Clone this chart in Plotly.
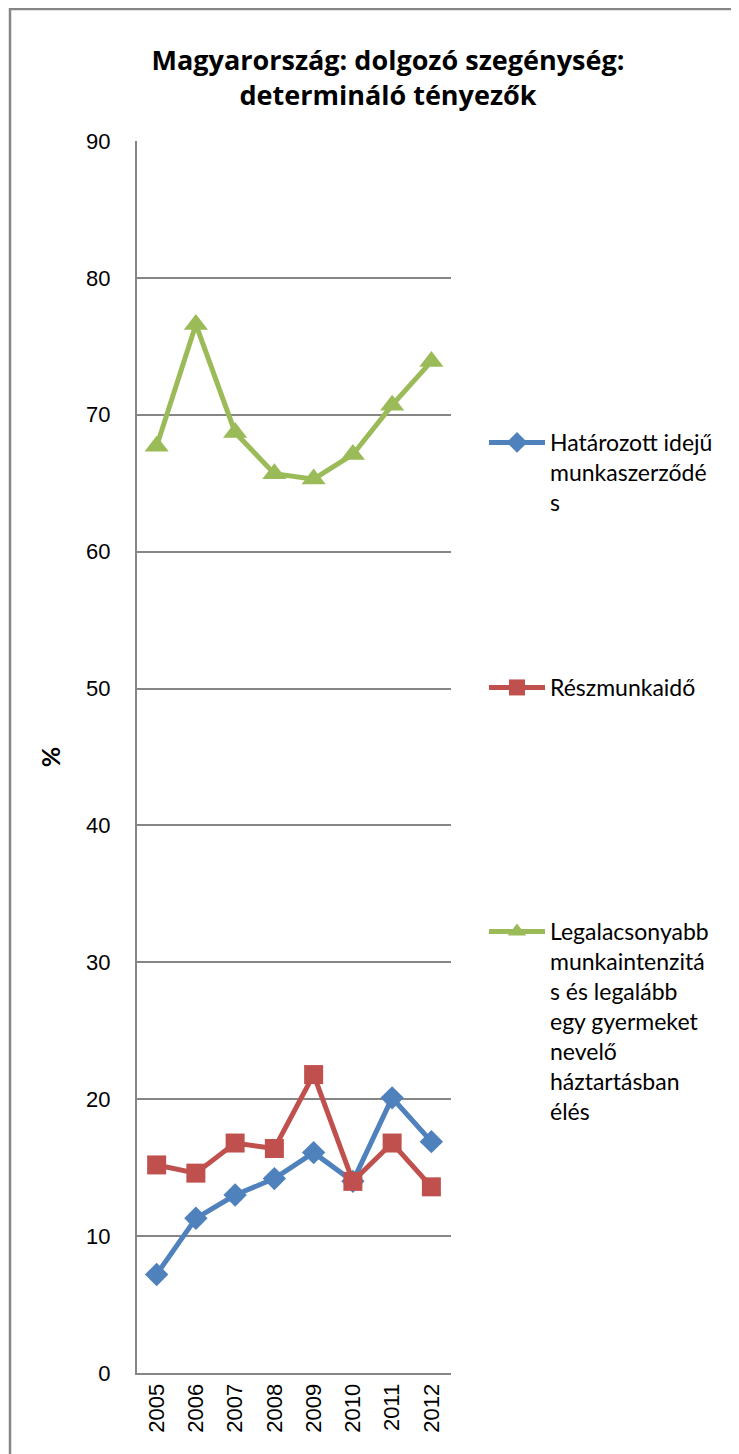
import plotly.graph_objects as go

years = ["2005", "2006", "2007", "2008", "2009", "2010", "2011", "2012"]
hatarozott = [7.2, 11.3, 13.0, 14.2, 16.1, 14.0, 20.1, 16.9]
reszmunka = [15.2, 14.6, 16.8, 16.4, 21.8, 14.0, 16.8, 13.6]
legalacsonyabb = [67.7, 76.6, 68.7, 65.7, 65.3, 67.1, 70.7, 73.9]

names = [
    "Határozott idejű<br>munkaszerződé<br>s",
    "Részmunkaidő",
    "Legalacsonyabb<br>munkaintenzitá<br>s és legalább<br>egy gyermeket<br>nevelő<br>háztartásban<br>élés",
]
colors = ["#4F81BD", "#C0504D", "#9BBB59"]
symbols = ["diamond", "square", "triangle-up"]
sizes = [18, 19, 21]
series = [hatarozott, reszmunka, legalacsonyabb]
legends = ["legend", "legend2", "legend3"]

# page has an 8px body margin, so work in page pixels and shift
OFF = 8
W, H = 739 - OFF, 1454 - OFF
L, R, T, B = 137, 451, 141, 1373  # plot area in page pixels


def px_x(p):
    return (p - L) / (R - L)


def px_y(p):
    return (B - p) / (B - T)


fig = go.Figure()
for vals, name, c, s, sz, lg in zip(series, names, colors, symbols, sizes, legends):
    fig.add_trace(go.Scatter(
        x=years, y=vals, name=name, mode="lines+markers",
        line=dict(color=c, width=5),
        marker=dict(symbol=s, size=sz, color=c),
        legend=lg,
    ))

leg_font = dict(family="Lato, Calibri, sans-serif", size=23, color="#000000")
leg_common = dict(x=px_x(484), xanchor="left", yanchor="top", font=leg_font,
                  bgcolor="rgba(0,0,0,0)", itemwidth=56, valign="top",
                  itemclick=False, itemdoubleclick=False)

fig.update_layout(
    width=W, height=H,
    margin=dict(l=L - OFF, r=W - (R - OFF), t=T - OFF, b=H - (B - OFF)),
    paper_bgcolor="white", plot_bgcolor="white",
    showlegend=True,
    title=dict(
        text="<b>Magyarország: dolgozó szegénység:<br>determináló tényezők</b>",
        xref="container", x=(388 - OFF) / W, xanchor="center",
        y=1 - (70 - OFF) / H, yanchor="middle",
        font=dict(family="Open Sans, Calibri, sans-serif", size=27, color="#000000"),
    ),
    font=dict(family="Liberation Sans, Arial, sans-serif", size=22, color="#000000"),
    legend=dict(y=px_y(421), **leg_common),
    legend2=dict(y=px_y(666), **leg_common),
    legend3=dict(y=px_y(910), **leg_common),
    xaxis=dict(
        type="category", range=[-0.5, 7.5], tickangle=-90,
        showgrid=False, showline=True, linecolor="#868686", linewidth=2,
        ticks="", tickfont=dict(size=22),
    ),
    yaxis=dict(
        range=[0, 90], dtick=10, tick0=0,
        showgrid=True, gridcolor="#868686", gridwidth=1.5,
        showline=True, linecolor="#868686", linewidth=2,
        zeroline=False, ticks="", ticklabelstandoff=20,
        tickfont=dict(size=22),
        title=dict(text="<b>%</b>", standoff=18,
                   font=dict(family="Lato, Calibri, sans-serif", size=25)),
    ),
    shapes=[dict(
        type="rect", xref="paper", yref="paper",
        x0=px_x(10), x1=px_x(760), y0=px_y(9), y1=px_y(1480),
        line=dict(color="#868686", width=2.5), layer="below",
    )],
)

fig.write_html("out.html")
